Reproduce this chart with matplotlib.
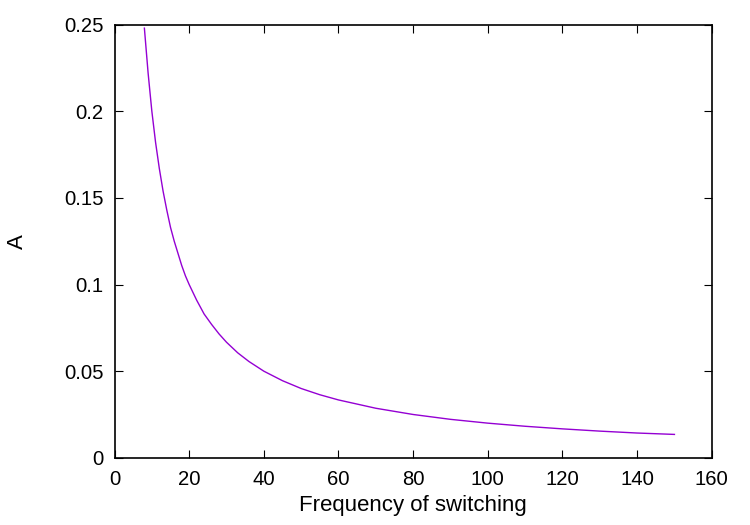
import matplotlib
matplotlib.use('Agg')
import matplotlib.pyplot as plt

plt.rcParams['font.family'] = ['Liberation Sans', 'DejaVu Sans']

# values
freq = [8, 8.5, 9, 9.5, 10, 11, 12, 13, 14, 15, 16, 17, 18, 19, 20,
        22, 24, 26, 28, 30, 33, 36, 40, 45, 50, 55, 60, 70, 80, 90,
        100, 110, 120, 130, 140, 150]
amp = [0.248, 0.235, 0.222, 0.211, 0.200, 0.182, 0.167, 0.154, 0.143,
       0.133, 0.125, 0.118, 0.111, 0.105, 0.100, 0.091, 0.083, 0.077,
       0.0715, 0.0667, 0.0606, 0.0556, 0.050, 0.0445, 0.040, 0.0364,
       0.0334, 0.0286, 0.025, 0.0222, 0.020, 0.0182, 0.0167, 0.0154,
       0.0143, 0.0135]

xticks = [0, 20, 40, 60, 80, 100, 120, 140, 160]
yticks = [0, 0.05, 0.1, 0.15, 0.2, 0.25]
ytick_labels = ['0', '0.05', '0.1', '0.15', '0.2', '0.25']

fig = plt.figure(figsize=(7.5, 5.25), dpi=100)
ax = fig.add_axes([0.1527, 0.128, 0.7963, 0.825])
ax.plot(freq, amp, color='#9400D3', linewidth=1)

ax.set_xlim(0, 160)
ax.set_ylim(0, 0.25)
ax.set_xticks(xticks)
ax.set_yticks(yticks)
ax.set_yticklabels(ytick_labels)
ax.tick_params(direction='in', top=True, right=True, length=6, width=0.8,
               labelsize=14.6)
ax.tick_params(axis='x', pad=9)
ax.tick_params(axis='y', pad=8)
for s in ax.spines.values():
    s.set_linewidth(1.2)

ax.set_xlabel('Frequency of switching', fontsize=16, labelpad=4)
ax.set_ylabel('A', fontsize=16, labelpad=26)

fig.savefig('out.png', dpi=100)
